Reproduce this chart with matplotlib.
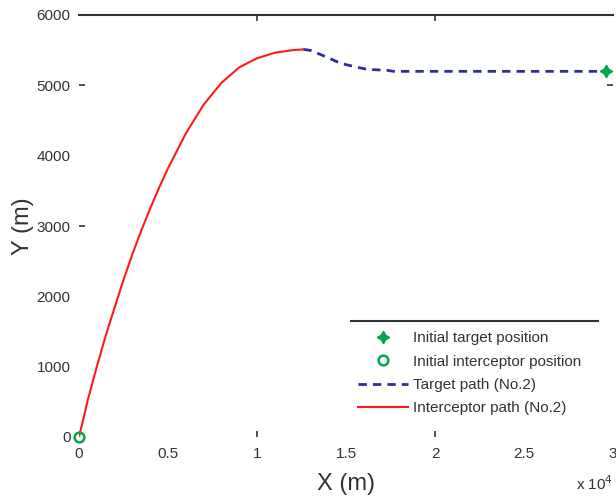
import matplotlib
matplotlib.use("Agg")
import matplotlib.pyplot as plt
from matplotlib.ticker import FuncFormatter
from matplotlib.lines import Line2D

plt.rcParams["font.family"] = ["Liberation Sans", "DejaVu Sans"]

# Interceptor trajectory (m)
interceptor_x = [0, 500, 1000, 1500, 2000, 2500, 3000, 3500, 4000, 4500, 5000,
                 6000, 7000, 8000, 9000, 10000, 11000, 12000, 12606]
interceptor_y = [0, 530, 1000, 1440, 1840, 2235, 2600, 2935, 3250, 3545, 3820,
                 4315, 4725, 5035, 5255, 5385, 5463, 5500, 5511]

# Target trajectory (m)
target_x = [12606, 13000, 13950, 14690, 15640, 16200, 17330, 17670, 22000, 26000, 29600]
target_y = [5511, 5497, 5398, 5313, 5256, 5227, 5213, 5199, 5199, 5199, 5199]

target_start = (29600, 5199)
interceptor_start = (0, 0)

x_ticks = [0, 5000, 10000, 15000, 20000, 25000, 30000]
y_ticks = [0, 1000, 2000, 3000, 4000, 5000, 6000]

green = "#00a84a"
navy = "#2a2f9a"
red = "#ff1a1a"
ink = "#333333"

fig = plt.figure(figsize=(6.16, 4.96), dpi=100)
ax = fig.add_axes([79 / 616, 1 - 437 / 496, 534 / 616, 422 / 496])

ax.plot(target_x, target_y, color=navy, lw=2.0, ls=(0, (3.0, 2.2)),
        label="Target path (No.2)", zorder=2)
ax.plot(interceptor_x, interceptor_y, color=red, lw=1.5,
        label="Interceptor path (No.2)", zorder=3)
ax.plot([target_start[0]], [target_start[1]], ls="none", marker=(4, 1, 0),
        ms=9, color=green, mec=green, label="Initial target position",
        zorder=4, clip_on=False)
ax.plot([interceptor_start[0]], [interceptor_start[1]], ls="none", marker="o",
        ms=7, mfc="none", mec=green, mew=1.8,
        label="Initial interceptor position", zorder=4, clip_on=False)

ax.set_xlim(0, 30000)
ax.set_ylim(0, 6000)
ax.set_xticks(x_ticks)
ax.set_yticks(y_ticks)
ax.xaxis.set_major_formatter(FuncFormatter(lambda v, p: f"{v / 1e4:g}"))

for side in ("left", "right", "bottom"):
    ax.spines[side].set_visible(False)
ax.spines["top"].set_color(ink)
ax.spines["top"].set_linewidth(1.5)

ax.tick_params(direction="in", length=4.5, width=1.2, color=ink,
               labelsize=11, labelcolor=ink, top=True, right=True)
ax.tick_params(axis="x", pad=7)
ax.tick_params(axis="y", pad=6)

# only a few tick marks are drawn
for t, v in zip(ax.xaxis.get_major_ticks(), x_ticks):
    t.tick1line.set_visible(v in (10000, 20000))
    t.tick2line.set_visible(v in (10000, 20000))
for t, v in zip(ax.yaxis.get_major_ticks(), y_ticks):
    t.tick1line.set_visible(v in (3000, 5000))
    t.tick2line.set_visible(v == 5000)

ax.set_xlabel("X (m)", fontsize=17, color=ink, labelpad=9)
ax.set_ylabel("Y (m)", fontsize=17, color=ink, labelpad=2)
ax.text(1.0, -0.11, r"x 10$^4$", transform=ax.transAxes, ha="right",
        va="center", fontsize=11, color=ink)

handles, labels = ax.get_legend_handles_labels()
order = [2, 3, 0, 1]
leg = ax.legend([handles[i] for i in order], [labels[i] for i in order],
                loc="upper left", bbox_to_anchor=(0.5225, 0.251), frameon=False,
                fontsize=11, handlelength=3.3, handletextpad=0.3,
                labelspacing=0.62, borderaxespad=0, borderpad=0)
for txt in leg.get_texts():
    txt.set_color(ink)

ax.add_line(Line2D([0.509, 0.972], [0.276, 0.276], transform=ax.transAxes,
                   color=ink, lw=1.5, clip_on=False))

fig.savefig("out.png", dpi=100)
